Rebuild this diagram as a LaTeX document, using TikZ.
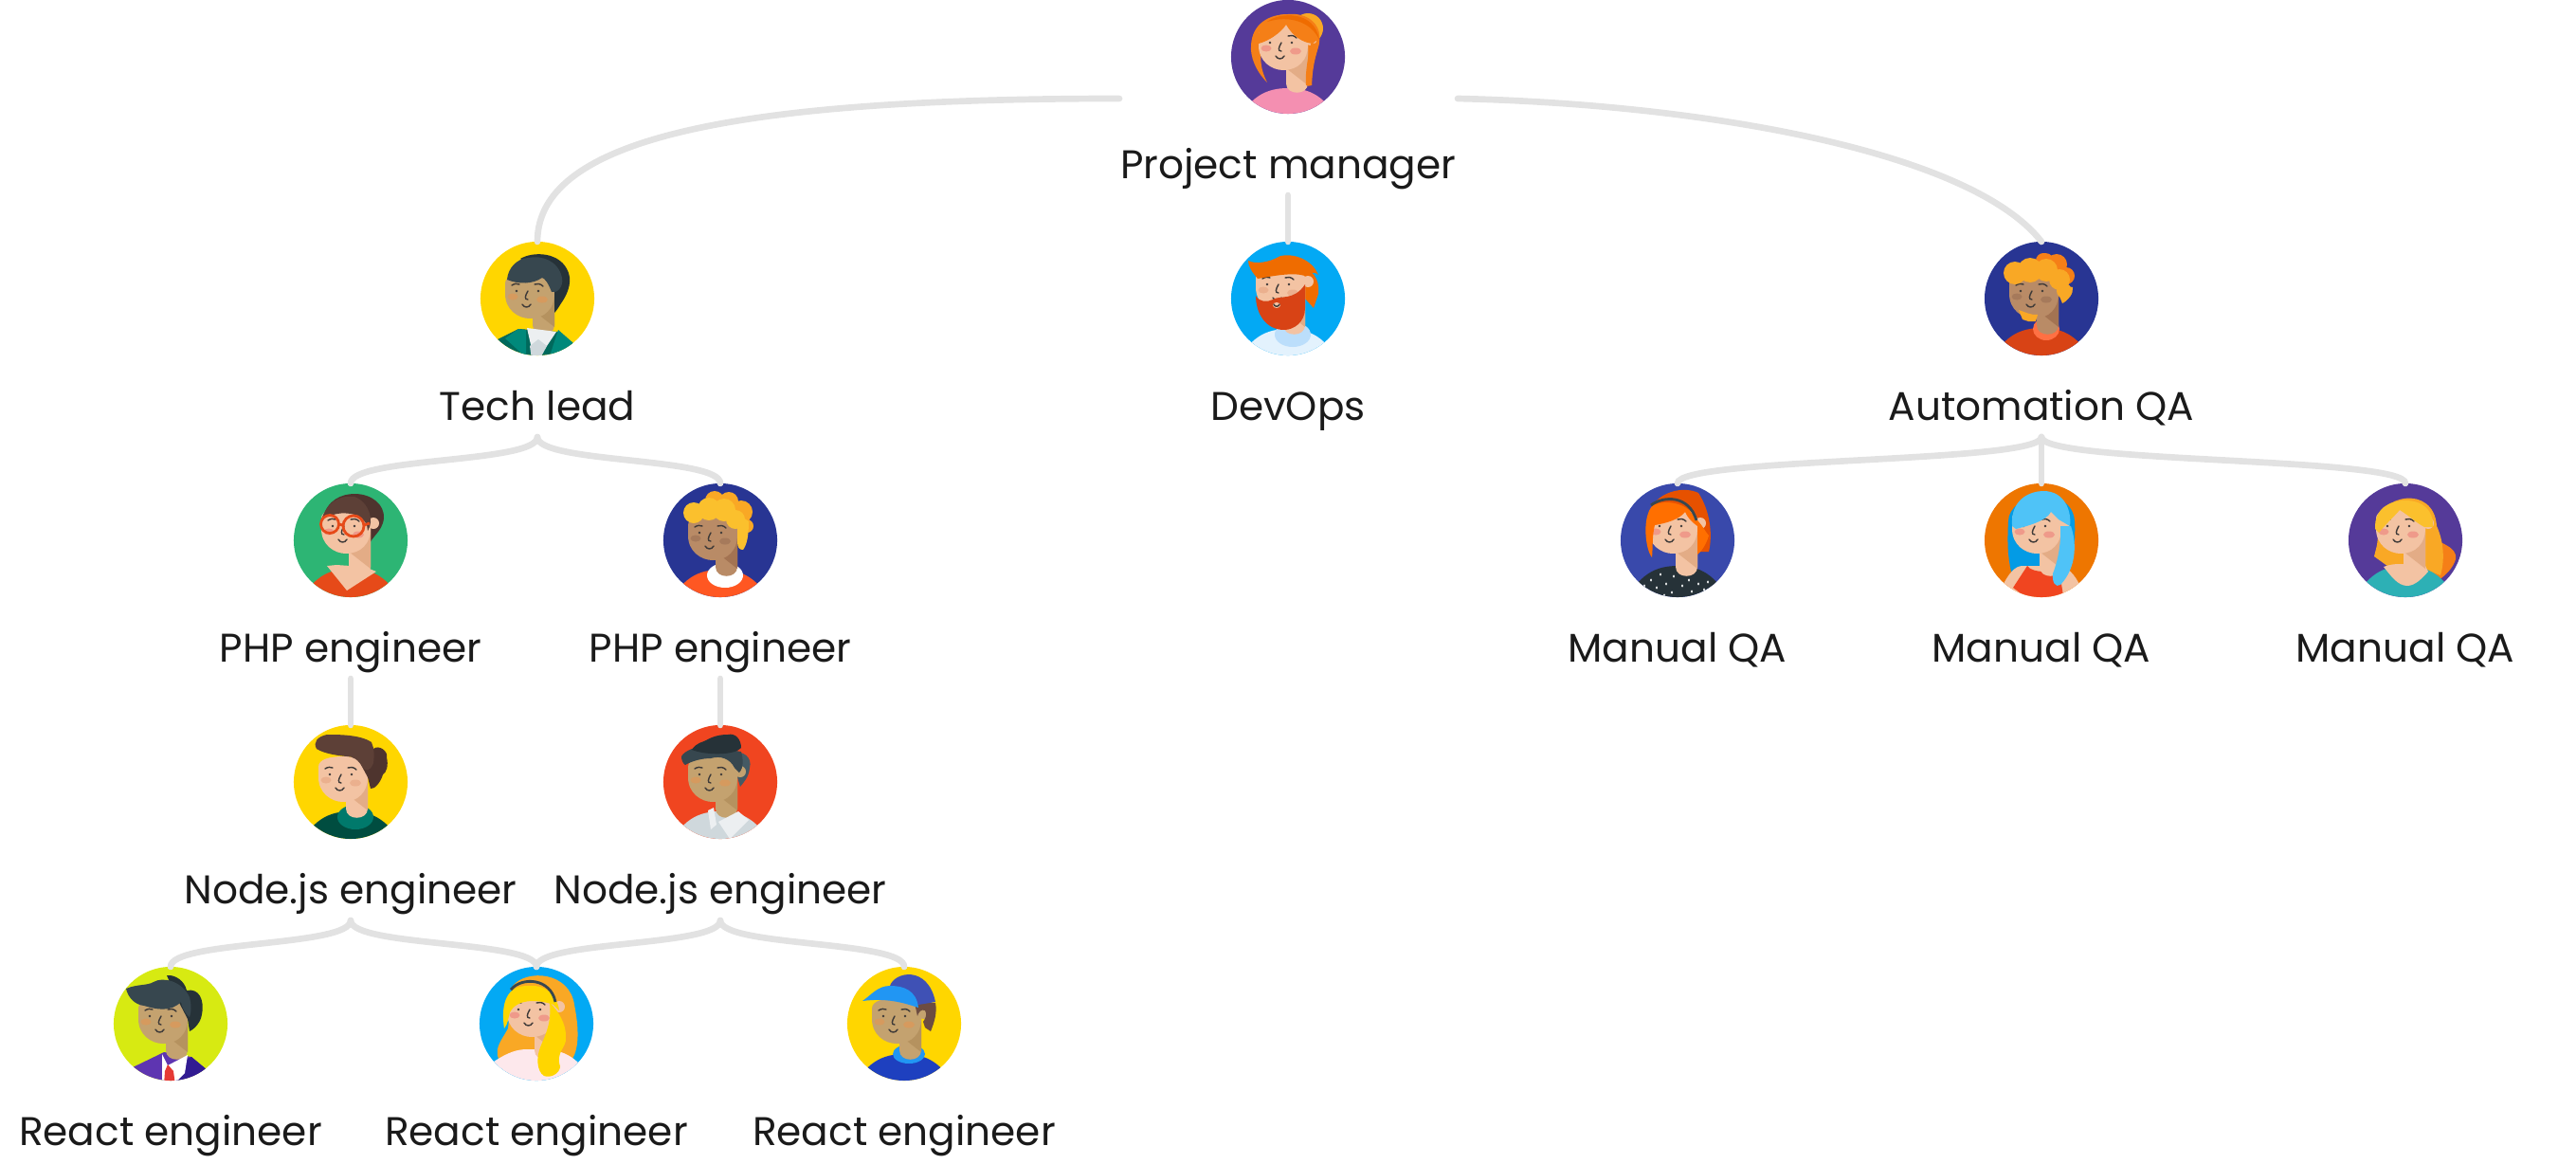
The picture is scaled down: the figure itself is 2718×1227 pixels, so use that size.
\documentclass[tikz,border=0pt]{standalone}
\usepackage{fontspec}
\setmainfont{Poppins}

% palette
\definecolor{linkgrey}{HTML}{E2E2E2}
\definecolor{textdark}{HTML}{1A1A1A}
\definecolor{facestroke}{HTML}{3E3A38}
\definecolor{skinpale}{HTML}{F3C3A3}
\definecolor{shadepale}{HTML}{E3AC86}
\definecolor{cheekpink}{HTML}{EF9A8A}
\definecolor{cheekpeach}{HTML}{EBB08E}
\definecolor{skintan}{HTML}{C4A26F}
\definecolor{shadetan}{HTML}{B5925F}
\definecolor{cheektan}{HTML}{D69A5E}
\definecolor{skinbrown}{HTML}{B98B66}
\definecolor{shadebrown}{HTML}{A37352}
\definecolor{cheekbrown}{HTML}{A67A5B}
\definecolor{bgpurple}{HTML}{553A99}
\definecolor{bgblue}{HTML}{03A9F4}
\definecolor{bgnavy}{HTML}{283593}
\definecolor{bgyellow}{HTML}{FFD600}
\definecolor{bggreen}{HTML}{2DB574}
\definecolor{bgred}{HTML}{F04520}
\definecolor{bglime}{HTML}{D7EA12}
\definecolor{bgindigo}{HTML}{3949AB}
\definecolor{bgorange}{HTML}{EE7600}
\definecolor{hairblack}{HTML}{263238}
\definecolor{haircoal}{HTML}{37474F}
\definecolor{hairslate}{HTML}{455A64}
\definecolor{hairbrown}{HTML}{5D4037}
\definecolor{hairumber}{HTML}{4E342E}
\definecolor{hairorange}{HTML}{F57F17}
\definecolor{hairrust}{HTML}{EF6C00}
\definecolor{hairamber}{HTML}{F9A825}
\definecolor{hairgold}{HTML}{FBC02D}
\definecolor{hairlemon}{HTML}{FFD600}
\definecolor{hairsky}{HTML}{4FC3F7}
\definecolor{hairocean}{HTML}{039BE5}
\definecolor{hairbright}{HTML}{FF6F00}
\definecolor{hairburnt}{HTML}{E65100}
\definecolor{beardred}{HTML}{D84315}
\definecolor{shirtpink}{HTML}{F48FB1}
\definecolor{shirtpale}{HTML}{E3F2FD}
\definecolor{collarpale}{HTML}{BBDEFB}
\definecolor{shirtrust}{HTML}{D84315}
\definecolor{collarcoral}{HTML}{FF7043}
\definecolor{suitteal}{HTML}{00695C}
\definecolor{lapelteal}{HTML}{00897B}
\definecolor{shirtflame}{HTML}{E64A19}
\definecolor{shirtorange}{HTML}{FF5722}
\definecolor{shirtpine}{HTML}{004D40}
\definecolor{collarpine}{HTML}{00796B}
\definecolor{shirtmist}{HTML}{CFD8DC}
\definecolor{collarmist}{HTML}{ECEFF1}
\definecolor{shirtteal}{HTML}{2DB0B5}
\definecolor{suitviolet}{HTML}{5E35B1}
\definecolor{suitdeep}{HTML}{311B92}
\definecolor{tiered}{HTML}{E53935}
\definecolor{blouse}{HTML}{FDE8EC}
\definecolor{shirtroyal}{HTML}{1E40BF}
\definecolor{collarazure}{HTML}{2196F3}
\definecolor{capindigo}{HTML}{3F51B5}
\definecolor{earbrown}{HTML}{6D4C41}

% neck and face, shifted by #1,#2
\newcommand{\drawhead}[5]{%
  \begin{scope}[shift={(#1,0)}]
    \fill[#3] (-5,-12) -- (-5,28) .. controls (-5,41) and (18,41) .. (18,28) -- (18,-12) -- cycle;
    \fill[#4] (-5,12) -- (-5,-12) -- (18,-12) -- (18,30) -- cycle;
  \end{scope}
  \begin{scope}[shift={(#1,#2)}]
    \fill[#3] (-34,-16) -- (-34,-5) .. controls (-34,12) and (-20,21) .. (-8,21)
      .. controls (8,21) and (18,10) .. (18,-5) -- (18,-14)
      .. controls (18,-22) and (8,-27) .. (-8,-27) .. controls (-22,-27) and (-34,-24) .. (-34,-16) -- cycle;
    \fill[#3] (21,-11) circle[radius=6];
    \fill[#5] (-26,-2) ellipse[x radius=5.5,y radius=3.5];
    \fill[#5] (5,1) ellipse[x radius=6,y radius=3.5];
    \fill[facestroke] (-22,-8) circle[radius=1.4] (1,-8) circle[radius=1.4];
    \draw[feature] (-27,-14) .. controls (-24,-16) and (-21,-16) .. (-19,-15);
    \draw[feature] (-3,-15) .. controls (0,-16) and (3,-16) .. (6,-13);
    \draw[feature] (-10,-8) .. controls (-13,-3) and (-14,1) .. (-10,1);
    \draw[feature] (-16,6) .. controls (-14,10) and (-9,10) .. (-7,6);
  \end{scope}}
% round shoulders
\newcommand{\drawshirt}[2]{%
  \fill[#1,shift={(0,#2)}] (-56,72) .. controls (-42,38) and (-22,30) .. (0,30)
    .. controls (22,30) and (42,38) .. (56,72) -- cycle;}
% coloured disc with the portrait clipped to it
\newcommand{\avatar}[4]{%
  \node[face,fill=#3] (#1) at (#2) {};
  \begin{scope}[shift={(#2)}]
    \clip (0,0) circle[radius=60];
    #4
  \end{scope}}
\newcommand{\splitlink}[2]{%
  \draw[link] (#1.south) .. controls +(0,28) and +(0,-28) .. (#2.north);}

\begin{document}
\begin{tikzpicture}[x=0.01cm,y=-0.01cm,% one unit is one pixel, y downwards
face/.style = {circle, minimum size=1.2cm, inner sep=0pt, outer sep=0pt},
role/.style = {anchor=base, inner sep=0pt, outer sep=0pt, text=textdark,
               text depth=5.12pt, font=\fontsize{12pt}{15pt}\selectfont},
link/.style = {draw=linkgrey, line width=1.9pt, line cap=round},
feature/.style = {draw=facestroke, line width=0.4pt, line cap=round}
                    ]
	\useasboundingbox (0,0) rectangle (2718,1227);

	% project manager
	\avatar{pmface}{1359,60}{bgpurple}{
		\fill[hairamber] (21,-30) circle[radius=16];
		\fill[hairorange] (-39,-12) .. controls (-38,-35) and (-20,-45) .. (0,-45)
			.. controls (20,-47) and (36,-35) .. (33,-15) .. controls (31,-5) and (25,5) .. (25,30)
			.. controls (21,30) and (19,25) .. (19,15) -- (18,-10) -- (-28,-10)
			.. controls (-30,5) and (-28,15) .. (-22,27) .. controls (-34,15) and (-40,0) .. (-39,-12) -- cycle;
		\drawshirt{shirtpink}{3}
		\drawhead{3}{-7}{skinpale}{shadepale}{cheekpink}
		\fill[hairorange] (19,30) .. controls (18,20) and (20,5) .. (24,-14) -- (33,-15)
			.. controls (31,-5) and (26,5) .. (25,30) .. controls (22,31) and (20,31) .. (19,30) -- cycle;
		\fill[hairorange] (-31,-14) .. controls (-20,-17) and (-8,-25) .. (-2,-34)
			.. controls (5,-22) and (15,-15) .. (26,-14) -- (33,-20)
			.. controls (34,-35) and (20,-45) .. (0,-45) .. controls (-20,-45) and (-35,-30) .. (-31,-14);
		\fill[hairrust] (-22,-37) .. controls (-10,-47) and (28,-50) .. (33,-18)
			.. controls (24,-38) and (0,-44) .. (-22,-37);
	}
	\node[role] (pmtext) at (1359,188) {Project manager};
	\coordinate (pmleft) at (1181,104);
	\coordinate (pmright) at (1538,104);

	% second row
	\avatar{leadface}{567,315}{bgyellow}{
		\fill[suitteal] (-42,43) -- (-20,32) -- (22,35) -- (37,47) -- (37,70) -- (-50,70) -- cycle;
		\drawhead{0}{0}{skintan}{shadetan}{cheektan}
		\fill[lapelteal] (-12,33) -- (-20,32) -- (-34,42) -- (-12,62) -- cycle;
		\fill[lapelteal] (22,33) -- (38,47) -- (10,70) -- cycle;
		\fill[collarmist] (-11,31) -- (20,35) -- (2,62) -- (-4,62) -- cycle;
		\fill[shirtmist] (-8,50) -- (1,43) -- (10,50) -- (2,65) -- (-6,65) -- cycle;
		\fill[hairblack] (-18,-42) .. controls (-5,-50) and (25,-50) .. (33,-27)
			.. controls (37,-15) and (30,-2) .. (25,5) .. controls (22,10) and (20,13) .. (18,15)
			-- (18,-8) -- (0,-30) -- cycle;
		\fill[haircoal] (-32,-20) .. controls (-31,-32) and (-22,-42) .. (-10,-43)
			.. controls (5,-46) and (22,-40) .. (26,-22) .. controls (28,-12) and (20,-5) .. (15,-7)
			.. controls (12,-15) and (8,-22) .. (5,-22) .. controls (-5,-15) and (-20,-15) .. (-32,-20) -- cycle;
	}
	\node[role] (leadtext) at (567,443) {Tech lead};

	\avatar{devopsface}{1359,315}{bgblue}{
		\fill[hairrust] (10,-30) .. controls (25,-35) and (34,-20) .. (32,-5) -- (27,10) -- (18,0) -- cycle;
		\drawshirt{shirtpale}{2}
		\fill[collarpale] (5,38) ellipse[x radius=19,y radius=13];
		\drawhead{0}{-7}{skinpale}{shadepale}{cheekpeach}
		\fill[beardred] (-34,-3) .. controls (-30,4) and (-22,4) .. (-16,1)
			.. controls (-8,-4) and (6,3) .. (18,-15) -- (18,10)
			.. controls (18,25) and (6,33) .. (-4,33) .. controls (-24,33) and (-34,15) .. (-34,-3) -- cycle;
		\fill[skinpale] (-12,7) ellipse[x radius=4,y radius=3];
		\draw[feature] (-15,6) .. controls (-14,9) and (-10,9) .. (-9,6);
		\fill[hairrust] (-42,-40) .. controls (-34,-36) and (-20,-38) .. (-8,-45)
			.. controls (5,-48) and (25,-42) .. (32,-25) .. controls (30,-28) and (24,-28) .. (18,-24)
			.. controls (5,-28) and (-15,-24) .. (-32,-21) .. controls (-38,-28) and (-42,-34) .. (-42,-40);
	}
	\node[role] (devopstext) at (1359,443) {DevOps};

	\avatar{autoface}{2154,315}{bgnavy}{
		\fill[hairorange] (4,-38) circle[radius=10] (16,-36) circle[radius=11] (26,-24) circle[radius=9];
		\drawshirt{shirtrust}{1}
		\fill[collarcoral] (5,32) ellipse[x radius=14,y radius=12];
		\drawhead{0}{0}{skinbrown}{shadebrown}{cheekbrown}
		\fill[hairamber] (-24,12) .. controls (-18,14) and (-10,18) .. (-4,17) -- (-6,24) -- (-14,24) -- (-20,22) -- cycle;
		\fill[hairorange] (2,-40) circle[radius=8] (14,-36) circle[radius=9] (25,-24) circle[radius=8];
		\fill[hairamber] (-28,-27) circle[radius=12] (-12,-30) circle[radius=13]
			(5,-30) circle[radius=12] (19,-20) circle[radius=11] (24,-8) circle[radius=8];
		\fill[hairamber] (14,-15) -- (33,-12) .. controls (34,-5) and (28,2) .. (22,5) -- (18,-5) -- cycle;
	}
	\node[role] (autotext) at (2154,443) {Automation QA};

	% third row
	\avatar{phpfirstface}{370,570}{bggreen}{
		\fill[hairumber] (-29,-24) .. controls (-25,-42) and (-10,-49) .. (4,-49)
			.. controls (22,-49) and (36,-38) .. (35,-23) .. controls (33,-8) and (22,-5) .. (18,8) -- (14,-10) -- (-10,-25) -- cycle;
		\drawshirt{shirtflame}{0}
		\fill[skinpale] (-25,27) -- (-4,53) -- (27,33) -- (15,28) -- (-15,26) -- cycle;
		\drawhead{3}{-7}{skinpale}{shadepale}{cheekpink}
		\fill[hairbrown] (-31,-22) .. controls (-15,-30) and (-5,-30) .. (8,-26)
			.. controls (14,-22) and (18,-17) .. (18,-10) .. controls (25,-20) and (20,-40) .. (4,-46)
			.. controls (-15,-48) and (-25,-38) .. (-31,-22);
		\draw[shirtflame,line width=0.8pt] (-22,-17) circle[radius=9.5] (3,-15) circle[radius=11]
			(-13,-17) -- (-8,-16) (14,-16) -- (20,-18);
	}
	\node[role] (phpfirsttext) at (370,698) {PHP engineer};

	\avatar{phpsecondface}{760,570}{bgnavy}{
		\drawshirt{shirtorange}{1}
		\fill[white] (5,37) ellipse[x radius=19,y radius=13];
		\drawhead{0}{0}{skinbrown}{shadebrown}{cheekbrown}
		\fill[hairamber] (-6,-42) circle[radius=10] (9,-41) circle[radius=10]
			(22,-30) circle[radius=12] (28,-15) circle[radius=7];
		\fill[hairgold] (-28,-29) circle[radius=11] (-12,-33) circle[radius=12]
			(4,-32) circle[radius=12] (16,-22) circle[radius=10];
		\fill[hairgold] (18,-28) -- (30,-20) .. controls (30,-5) and (28,5) .. (24,10)
			.. controls (20,10) and (18,8) .. (18,0) -- cycle;
	}
	\node[role] (phpsecondtext) at (760,698) {PHP engineer};

	\avatar{qafirstface}{1770,570}{bgindigo}{
		\fill[hairburnt] (-27,-35) .. controls (-20,-50) and (5,-58) .. (22,-50)
			.. controls (35,-30) and (37,-5) .. (33,12) -- (20,12) -- (-20,0) -- cycle;
		\drawshirt{hairblack}{-3}
		\foreach \dotx/\doty in {-35/48,-28/42,-22/50,-18/36,-12/46,-6/55,-4/38,5/48,12/42,15/54,22/46,28/52,-14/58,32/44}
			\fill[white] (\dotx,\doty) ellipse[x radius=1,y radius=1.7];
		\drawhead{3}{-7}{skinpale}{shadepale}{cheekpink}
		\fill[hairbright] (-26,-37) .. controls (-10,-44) and (12,-38) .. (18,-24)
			.. controls (25,-18) and (30,-8) .. (33,-5) .. controls (30,5) and (25,12) .. (21,15)
			-- (21,-15) .. controls (14,-20) and (10,-25) .. (8,-30) .. controls (2,-22) and (-12,-18) .. (-24,-16)
			.. controls (-27,-5) and (-26,10) .. (-27,18) .. controls (-34,10) and (-38,-25) .. (-26,-37);
		\draw[haircoal,line width=0.8pt] (-28,-37) .. controls (-15,-47) and (12,-48) .. (20,-21);
	}
	\node[role] (qafirsttext) at (1770,698) {Manual QA};

	\avatar{qasecondface}{2154,570}{bgorange}{
		\fill[hairocean] (-35,-20) .. controls (-35,-50) and (32,-60) .. (35,-20)
			.. controls (36,0) and (34,20) .. (25,35) -- (-32,33) .. controls (-36,15) and (-36,0) .. (-35,-20);
		\fill[skinpale] (-42,50) .. controls (-35,35) and (-28,27) .. (-20,27) -- (22,27)
			.. controls (30,30) and (38,40) .. (44,55) -- (30,70) -- (-30,70) -- cycle;
		\fill[bgred] (-30,50) -- (-15,27) .. controls (-10,35) and (15,35) .. (18,27) -- (24,65) -- (0,72) -- cycle;
		\drawhead{3}{-7}{skinpale}{shadepale}{cheekpink}
		\fill[hairsky] (-31,-15) .. controls (-33,-45) and (-10,-52) .. (2,-52)
			.. controls (25,-52) and (32,-30) .. (30,-15) -- (18,-22) -- (10,-30)
			.. controls (5,-20) and (-15,-15) .. (-27,-12) -- cycle;
		\fill[hairsky] (20,-15) -- (31,-15) .. controls (38,5) and (36,30) .. (20,47)
			.. controls (15,50) and (11,45) .. (12,35) .. controls (18,20) and (21,0) .. (20,-15);
	}
	\node[role] (qasecondtext) at (2154,698) {Manual QA};

	\avatar{qathirdface}{2538,570}{bgpurple}{
		\fill[hairorange] (20,-10) .. controls (35,5) and (55,5) .. (53,20) .. controls (50,30) and (42,37) .. (35,42) -- (5,20) -- cycle;
		\fill[hairamber] (-30,-15) .. controls (-30,-48) and (30,-60) .. (33,-15)
			.. controls (40,0) and (42,20) .. (37,37) -- (5,25) -- (-8,35) -- (-33,17)
			.. controls (-30,5) and (-28,0) .. (-30,-15);
		\drawshirt{shirtteal}{-3}
		\fill[skinpale] (-23,28) .. controls (-15,25) and (-10,25) .. (-5,25) -- (20,25) -- (24,33)
			.. controls (18,40) and (10,48) .. (2,48) .. controls (-8,48) and (-15,38) .. (-23,28);
		\drawhead{3}{-7}{skinpale}{shadepale}{cheekpink}
		\fill[hairgold] (-32,-12) .. controls (-33,-35) and (-15,-42) .. (0,-42)
			.. controls (18,-42) and (30,-32) .. (29,-14) -- (20,-14) .. controls (12,-18) and (5,-25) .. (-6,-32)
			.. controls (-12,-25) and (-20,-18) .. (-28,-8) -- cycle;
	}
	\node[role] (qathirdtext) at (2538,698) {Manual QA};

	% fourth row
	\avatar{nodefirstface}{370,825}{bgyellow}{
		\drawshirt{shirtpine}{1}
		\fill[collarpine] (5,37) ellipse[x radius=19,y radius=13];
		\drawhead{0}{0}{skinpale}{shadepale}{cheekpeach}
		\fill[hairumber] (0,-38) .. controls (15,-45) and (22,-42) .. (24,-35) .. controls (30,-40) and (40,-32) .. (38,-26)
			.. controls (40,-18) and (38,-10) .. (34,-8) .. controls (32,0) and (25,8) .. (21,7) -- (18,-5) -- (10,-20) -- cycle;
		\fill[hairbrown] (-36,-35) .. controls (-40,-42) and (-35,-48) .. (-25,-50)
			.. controls (-12,-50) and (10,-50) .. (22,-42) .. controls (25,-35) and (25,-28) .. (24,-20)
			.. controls (20,-10) and (15,-12) .. (13,-15) .. controls (8,-24) and (2,-27) .. (-4,-27)
			.. controls (-15,-28) and (-28,-30) .. (-36,-35) -- cycle;
	}
	\node[role] (nodefirsttext) at (370,953) {Node.js engineer};

	\avatar{nodesecondface}{760,825}{bgred}{
		\drawshirt{shirtmist}{1}
		\fill[hairslate] (10,-30) .. controls (25,-35) and (34,-25) .. (31,-15) .. controls (30,-5) and (25,0) .. (21,5) -- (18,-5) -- cycle;
		\drawhead{0}{0}{skintan}{shadetan}{cheektan}
		\fill[collarmist] (-13,30) -- (-7,27) -- (-4,45) -- (-10,50) -- cycle;
		\fill[collarmist] (-2,42) -- (19,31) -- (30,40) -- (10,60) -- cycle;
		\fill[haircoal] (-41,-27) .. controls (-38,-33) and (-25,-38) .. (-15,-38)
			-- (22,-32) .. controls (24,-25) and (25,-15) .. (20,-10) -- (15,-15) .. controls (10,-25) and (0,-28) .. (-10,-25)
			.. controls (-20,-25) and (-30,-22) .. (-37,-18) .. controls (-40,-20) and (-41,-24) .. (-41,-27);
		\fill[hairblack] (-30,-34) .. controls (-25,-42) and (-18,-42) .. (-15,-44)
			.. controls (-5,-50) and (5,-50) .. (8,-50) .. controls (16,-52) and (22,-45) .. (22,-36)
			.. controls (15,-28) and (-15,-28) .. (-30,-34);
	}
	\node[role] (nodesecondtext) at (760,953) {Node.js engineer};

	% fifth row
	\avatar{reactfirstface}{180,1080}{bglime}{
		\fill[suitviolet] (-42,47) -- (-7,30) -- (22,35) -- (40,50) -- (40,70) -- (-42,70) -- cycle;
		\fill[suitdeep] (0,45) -- (22,35) -- (40,50) -- (40,70) -- (0,70) -- cycle;
		\drawhead{0}{0}{skintan}{shadetan}{cheektan}
		\fill[white] (-9,32) -- (-3,44) -- (18,33) -- (15,52) -- (2,65) -- (-9,65) -- cycle;
		\fill[tiered] (-3,43) -- (3,50) -- (5,65) -- (-7,65) -- (-6,50) -- cycle;
		\fill[hairblack] (-4,-51) .. controls (5,-52) and (15,-45) .. (17,-35)
			.. controls (30,-38) and (36,-25) .. (33,-10) .. controls (32,-2) and (26,5) .. (20,8) -- (18,-5) -- (5,-30) -- cycle;
		\fill[haircoal] (-47,-37) .. controls (-35,-42) and (-25,-40) .. (-18,-44)
			.. controls (-8,-50) and (12,-45) .. (20,-28) .. controls (22,-20) and (22,-12) .. (20,-7)
			.. controls (14,-12) and (12,-18) .. (11,-23) .. controls (0,-12) and (-15,-15) .. (-28,-19)
			.. controls (-38,-20) and (-45,-28) .. (-47,-37);
	}
	\node[role] (reactfirsttext) at (180,1208) {React engineer};

	\avatar{reactsecondface}{566,1080}{bgblue}{
		\fill[hairamber] (-25,-40) .. controls (-10,-58) and (35,-55) .. (40,-20)
			.. controls (45,5) and (45,25) .. (38,37) -- (-40,37) .. controls (-45,25) and (-35,15) .. (-30,5) -- cycle;
		\fill[blouse] (-45,40) .. controls (-30,30) and (-20,27) .. (-10,27) -- (15,27) .. controls (30,30) and (38,35) .. (45,42) -- (45,70) -- (-45,70) -- cycle;
		\drawhead{3}{-7}{skinpale}{shadepale}{cheekpink}
		\fill[hairlemon] (-34,5) .. controls (-37,-15) and (-35,-40) .. (-10,-40)
			.. controls (10,-42) and (22,-30) .. (24,-14) -- (18,-20) .. controls (5,-25) and (-20,-28) .. (-28,-12)
			.. controls (-30,-5) and (-30,0) .. (-34,5);
		\fill[hairlemon] (14,-22) .. controls (22,-15) and (32,0) .. (31,15)
			.. controls (32,25) and (20,30) .. (25,45) .. controls (25,52) and (15,58) .. (8,55)
			.. controls (0,50) and (0,35) .. (4,25) .. controls (10,10) and (16,0) .. (14,-22);
		\draw[haircoal,line width=0.8pt] (-27,-36) .. controls (-15,-50) and (15,-48) .. (20,-23);
	}
	\node[role] (reactsecondtext) at (566,1208) {React engineer};

	\avatar{reactthirdface}{954,1080}{bgyellow}{
		\drawshirt{shirtroyal}{2}
		\fill[collarazure] (5,32) ellipse[x radius=17,y radius=10];
		\drawhead{0}{0}{skintan}{shadetan}{cheektan}
		\fill[earbrown] (11,-22) -- (33,-22) .. controls (35,-12) and (32,-2) .. (28,8) -- (22,4) -- (20,-2)
			.. controls (22,-5) and (25,-10) .. (22,-14) .. controls (18,-16) and (15,-12) .. (14,-8) -- cycle;
		\fill[capindigo] (-15,-40) .. controls (-10,-55) and (25,-62) .. (33,-23) -- (15,-20) -- cycle;
		\fill[collarazure] (-44,-24) .. controls (-35,-30) and (-28,-40) .. (-15,-40)
			.. controls (0,-40) and (13,-35) .. (15,-17) .. controls (5,-20) and (-15,-28) .. (-44,-24);
	}
	\node[role] (reactthirdtext) at (954,1208) {React engineer};

	% connectors
	\draw[link] (pmleft) .. controls (800,104) and (567,140) .. (leadface.north);
	\draw[link] (pmtext.south) -- (devopsface.north);
	\draw[link] (pmright) .. controls (1800,110) and (2080,160) .. (autoface.north);
	\splitlink{leadtext}{phpfirstface}
	\splitlink{leadtext}{phpsecondface}
	\splitlink{autotext}{qafirstface}
	\draw[link] (autotext.south) -- (qasecondface.north);
	\splitlink{autotext}{qathirdface}
	\draw[link] (phpfirsttext.south) -- (nodefirstface.north);
	\draw[link] (phpsecondtext.south) -- (nodesecondface.north);
	\splitlink{nodefirsttext}{reactfirstface}
	\splitlink{nodefirsttext}{reactsecondface}
	\splitlink{nodesecondtext}{reactsecondface}
	\splitlink{nodesecondtext}{reactthirdface}
\end{tikzpicture}
\end{document}
